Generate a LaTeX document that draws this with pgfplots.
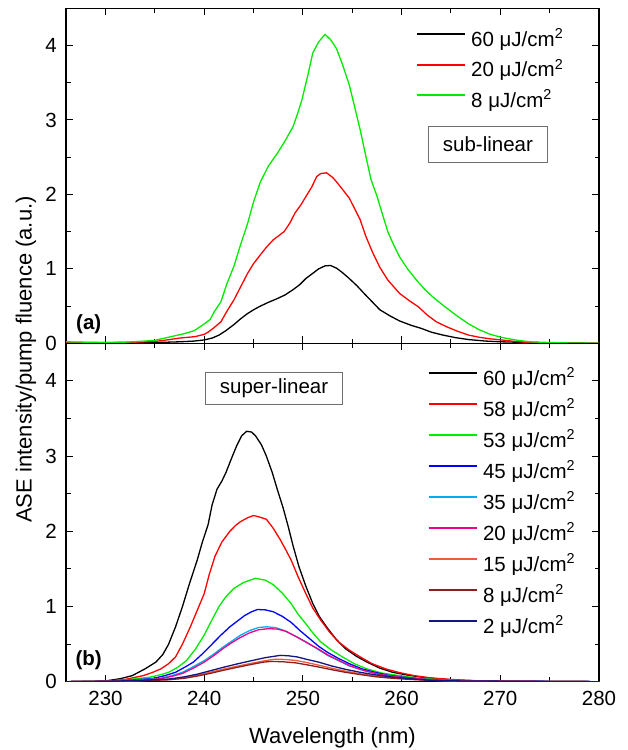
\documentclass[border=0pt]{standalone}
\usepackage{fontspec}
\setmainfont{Liberation Sans}
\usepackage{pgfplots}
\pgfplotsset{compat=1.18}
\definecolor{cgreen}{RGB}{0,235,0}
\definecolor{cred}{RGB}{255,0,0}
\definecolor{corange}{RGB}{240,90,60}
\definecolor{cbrown}{RGB}{140,30,30}
\definecolor{cnavy}{RGB}{20,20,130}
\definecolor{cboxgray}{RGB}{110,110,110}
\newcommand{\uJ}[1]{#1 μJ/cm\textsuperscript{2}}
\pgfplotsset{
  myaxis/.style={
    scale only axis, width=533pt,
    xmin=226, xmax=280, ymin=0, ymax=4.5,
    xtick={230,240,...,280}, ytick={0,1,2,3,4},
    minor x tick num=1, minor y tick num=1,
    tick align=inside, major tick length=7pt, minor tick length=4.5pt,
    axis line style={line width=1.2pt},
    tick style={black, line width=1pt},
    /pgf/number format/assume math mode=true,
    tick label style={font=\fontsize{20.5}{24}\selectfont},
    yticklabel style={inner sep=0pt, xshift=-9pt},
    xticklabel style={inner sep=0pt, yshift=-9pt},
    legend cell align=left,
    legend style={draw=none, fill=none, inner sep=0pt, outer sep=0pt, anchor=north west,
       font=\fontsize{20.5}{24}\selectfont,
       nodes={inner sep=0pt, text height=15pt, text depth=5pt},
       /tikz/every odd column/.append style={column sep=5.4pt}},
    every axis plot/.append style={line width=1.3pt},
  }
}
\begin{document}
\begin{tikzpicture}
\useasboundingbox (0pt,0pt) rectangle (627pt,750pt);
% ---------------- top panel (a) ----------------
\begin{axis}[myaxis, height=335pt, at={(66pt,406.7pt)}, anchor=south west,
  xticklabels={},
  legend image code/.code={\draw[#1, line width=2pt] (0pt,7.3pt) -- (48pt,7.3pt);},
  legend style={at={(0.6563,0.9313)}, row sep=10.5pt}]
\addplot[black] coordinates {
(226,0.01)(230,0.005)(235,0.01)(237.5,0.02)(239,0.03)(240,0.045)(240.8,0.07)(241.5,0.11)(242.2,0.17)(243,0.25)(243.7,0.33)(244.4,0.40)(245,0.45)(245.7,0.50)(246.5,0.55)(247.4,0.60)(248.2,0.65)(249,0.72)(249.7,0.79)(250.3,0.87)(251,0.94)(251.6,1.00)(252.25,1.04)(252.8,1.045)(253.4,1.01)(254,0.95)(254.7,0.87)(255.5,0.77)(256.2,0.67)(257,0.56)(257.8,0.45)(258.8,0.37)(259.8,0.30)(261,0.24)(262,0.20)(263,0.15)(264.2,0.11)(265.5,0.075)(266.8,0.05)(268.5,0.03)(270.1,0.02)(273,0.01)(280,0)};
\addlegendentry{\uJ{60}}
\addplot[cred] coordinates {
(226,0.01)(230,0.01)(233,0.015)(235,0.025)(236.5,0.05)(237.5,0.07)(239.1,0.09)(240,0.12)(240.4,0.15)(241,0.21)(241.7,0.29)(242.3,0.43)(243,0.58)(243.7,0.76)(244.4,0.94)(245,1.07)(245.7,1.19)(246.3,1.29)(247,1.39)(248.1,1.50)(248.7,1.62)(249.2,1.75)(249.8,1.86)(250.3,1.97)(250.9,2.10)(251.4,2.24)(251.8,2.28)(252.4,2.29)(253,2.23)(253.4,2.17)(254,2.07)(254.7,1.95)(255.2,1.82)(255.8,1.66)(256.4,1.43)(257.1,1.21)(257.8,1.02)(258.6,0.85)(259.2,0.76)(259.8,0.67)(260.7,0.58)(261.7,0.49)(262.6,0.38)(263.5,0.29)(264.6,0.22)(265.7,0.16)(266.8,0.11)(267.9,0.08)(269,0.06)(270.1,0.045)(271.5,0.025)(273,0.01)(276,0.005)(280,0)};
\addlegendentry{\uJ{20}}
\addplot[cgreen] coordinates {
(226,0.02)(228,0.015)(230,0.01)(232,0.015)(234,0.03)(235,0.04)(236,0.07)(237,0.10)(238,0.13)(239,0.17)(240,0.26)(240.6,0.32)(241,0.42)(241.7,0.56)(242.3,0.80)(243,1.03)(243.7,1.33)(244.4,1.61)(245,1.90)(245.7,2.17)(246.5,2.38)(247.4,2.55)(248.2,2.72)(249,2.91)(249.5,3.10)(249.9,3.27)(250.5,3.60)(251,3.90)(251.6,4.05)(252.25,4.15)(252.8,4.08)(253.4,3.96)(254,3.75)(254.7,3.47)(255.2,3.20)(255.8,2.87)(256.4,2.50)(256.9,2.20)(257.5,1.98)(258,1.76)(258.6,1.50)(259.2,1.32)(259.8,1.16)(260.6,1.00)(261.5,0.85)(262.3,0.73)(263.1,0.63)(264.3,0.50)(265.7,0.36)(266.8,0.26)(267.9,0.18)(269,0.12)(270.1,0.08)(271.5,0.045)(273,0.02)(275,0.01)(277,0.005)(280,0)};
\addlegendentry{\uJ{8}}
\node[font=\bfseries\fontsize{20.5}{24}\selectfont, inner sep=0pt] at (axis cs:228.3,0.26) {(a)};
\node[draw=cboxgray, line width=0.8pt, minimum width=119pt, minimum height=35.6pt, inner sep=0pt,
      font=\fontsize{20.5}{24}\selectfont] at (axis cs:268.75,2.67) {sub-linear};
\end{axis}
% ---------------- bottom panel (b) ----------------
\begin{axis}[myaxis, height=338.4pt, at={(66pt,68.3pt)}, anchor=south west,
  legend image code/.code={\draw[#1, line width=2pt] (0pt,7.3pt) -- (48pt,7.3pt);},
  legend style={at={(0.6786,0.920)}, row sep=11pt}]
\addplot[black] coordinates {
(226,0)(228,0.005)(230,0.01)(231.5,0.04)(232.7,0.08)(234,0.17)(235.1,0.26)(235.8,0.36)(236.4,0.50)(237.1,0.73)(237.8,1.0)(238.5,1.30)(239.3,1.62)(239.8,1.85)(240.4,2.09)(240.8,2.35)(241.3,2.56)(241.8,2.67)(242.2,2.78)(242.8,2.98)(243.3,3.14)(243.8,3.27)(244.3,3.33)(244.8,3.32)(245.2,3.27)(245.8,3.15)(246.3,3.0)(246.9,2.78)(247.4,2.56)(248,2.31)(248.5,2.07)(249,1.81)(249.6,1.53)(250.3,1.27)(251,1.04)(251.7,0.86)(252.5,0.71)(253.4,0.56)(254.3,0.44)(255.4,0.34)(256.5,0.26)(257.8,0.18)(259.1,0.125)(260.5,0.09)(262,0.06)(264,0.035)(265.7,0.02)(268,0.01)(272,0.005)(280,0)};
\addlegendentry{\uJ{60}}
\addplot[cred] coordinates {
(226,0)(230,0.005)(232,0.03)(233.8,0.08)(234.7,0.12)(235.6,0.17)(236.4,0.24)(237.1,0.33)(237.8,0.50)(238.6,0.73)(239.3,0.95)(240.0,1.17)(240.5,1.42)(241.1,1.67)(241.8,1.86)(242.6,2.0)(243.2,2.08)(243.7,2.13)(244.4,2.18)(245.0,2.21)(245.6,2.19)(246.3,2.16)(247,2.04)(247.7,1.89)(248.2,1.77)(248.8,1.62)(249.5,1.40)(250.3,1.17)(251,0.98)(251.8,0.82)(252.7,0.66)(253.6,0.53)(254.7,0.42)(255.8,0.33)(257,0.24)(258.4,0.17)(259.8,0.12)(261.3,0.08)(263,0.05)(265,0.03)(268,0.01)(272,0.005)(280,0)};
\addlegendentry{\uJ{58}}
\addplot[cgreen] coordinates {
(226,0)(230,0.005)(232.5,0.03)(234.5,0.06)(235.5,0.09)(236.4,0.125)(237.3,0.19)(238.2,0.28)(239.1,0.43)(240.0,0.62)(240.7,0.80)(241.5,1.0)(242.2,1.13)(243.0,1.24)(244,1.32)(245.2,1.375)(246.2,1.35)(247.0,1.29)(247.9,1.18)(248.8,1.04)(249.5,0.90)(250.3,0.77)(251,0.65)(251.8,0.53)(252.9,0.42)(254.0,0.33)(255.2,0.24)(256.5,0.17)(258,0.115)(259.8,0.08)(261.5,0.05)(263.5,0.03)(266,0.015)(270,0.005)(280,0)};
\addlegendentry{\uJ{53}}
\addplot[blue] coordinates {
(226,0)(230,0.005)(233,0.025)(234.9,0.045)(236,0.08)(237.1,0.125)(238,0.19)(238.9,0.26)(239.9,0.38)(240.8,0.50)(241.7,0.62)(242.6,0.73)(243.4,0.81)(244.1,0.88)(244.8,0.93)(245.4,0.96)(246.2,0.955)(247.0,0.93)(247.9,0.87)(248.8,0.79)(249.7,0.68)(250.7,0.57)(251.6,0.47)(252.5,0.39)(253.6,0.31)(254.7,0.24)(256,0.17)(257.3,0.125)(258.7,0.085)(260.2,0.06)(262,0.035)(263.9,0.02)(267,0.01)(280,0)};
\addlegendentry{\uJ{45}}
\addplot[cyan] coordinates {
(226,0)(230,0.005)(233,0.02)(235.6,0.045)(236.7,0.08)(237.8,0.125)(238.9,0.20)(240.0,0.28)(241,0.37)(241.9,0.46)(242.8,0.54)(243.7,0.62)(244.6,0.68)(245.5,0.72)(246.3,0.73)(247.2,0.72)(248.1,0.68)(249.2,0.61)(250.3,0.53)(251.4,0.44)(252.5,0.35)(253.6,0.28)(254.7,0.21)(256.1,0.15)(257.6,0.10)(259,0.07)(260.6,0.05)(262.4,0.03)(264.2,0.02)(268,0.008)(280,0)};
\addlegendentry{\uJ{35}}
\addplot[magenta] coordinates {
(226,0)(230,0.005)(233,0.015)(235.6,0.04)(236.7,0.07)(237.8,0.11)(238.9,0.18)(240.0,0.26)(241,0.35)(241.9,0.44)(242.8,0.52)(243.7,0.59)(244.6,0.65)(245.5,0.69)(246.5,0.705)(247.4,0.70)(248.3,0.67)(249.3,0.60)(250.4,0.52)(251.5,0.44)(252.6,0.35)(253.7,0.28)(254.8,0.21)(256.2,0.15)(257.7,0.10)(259.1,0.07)(260.7,0.05)(262.5,0.03)(264.3,0.02)(268,0.008)(280,0)};
\addlegendentry{\uJ{20}}
\addplot[corange] coordinates {
(226,0)(230,0.005)(233,0.012)(236.4,0.03)(238,0.055)(239.3,0.085)(240.6,0.125)(241.9,0.165)(243.3,0.205)(244.8,0.245)(246.2,0.28)(247.2,0.30)(248.3,0.295)(249.4,0.28)(250.4,0.255)(251.6,0.22)(252.9,0.18)(254.3,0.14)(255.8,0.105)(257.4,0.075)(259.1,0.05)(260.9,0.035)(262.8,0.02)(266,0.008)(280,0)};
\addlegendentry{\uJ{15}}
\addplot[cbrown] coordinates {
(226,0)(230,0.005)(233,0.01)(236.4,0.025)(238,0.045)(239.3,0.075)(240.6,0.11)(241.9,0.15)(243.3,0.19)(244.8,0.23)(246,0.26)(246.8,0.27)(248,0.265)(249.3,0.25)(250.4,0.225)(251.6,0.195)(252.9,0.16)(254.3,0.125)(255.8,0.095)(257.4,0.065)(259.1,0.045)(260.9,0.03)(262.8,0.018)(266,0.007)(280,0)};
\addlegendentry{\uJ{8}}
\addplot[cnavy] coordinates {
(226,0)(230,0.005)(233,0.015)(236.4,0.035)(238,0.065)(239.3,0.10)(240.6,0.145)(241.9,0.19)(243.3,0.235)(244.8,0.28)(246.2,0.32)(247.7,0.35)(248.5,0.345)(249.4,0.33)(250.3,0.30)(251.6,0.26)(252.9,0.21)(254.3,0.165)(255.8,0.125)(257.4,0.09)(259.1,0.06)(260.9,0.04)(262.8,0.02)(266,0.01)(280,0)};
\addlegendentry{\uJ{2}}
\node[font=\bfseries\fontsize{20.5}{24}\selectfont, inner sep=0pt] at (axis cs:228.3,0.29) {(b)};
\node[draw=cboxgray, line width=0.8pt, minimum width=137pt, minimum height=32pt, inner sep=0pt,
      font=\fontsize{20.5}{24}\selectfont] at (axis cs:247.08,3.90) {super-linear};
\end{axis}
\node[rotate=90, font=\fontsize{22}{26}\selectfont] at (26pt,390.5pt) {ASE intensity/pump fluence (a.u.)};
\node[font=\fontsize{22}{26}\selectfont] at (332.5pt,12pt) {Wavelength (nm)};
\end{tikzpicture}
\end{document}
